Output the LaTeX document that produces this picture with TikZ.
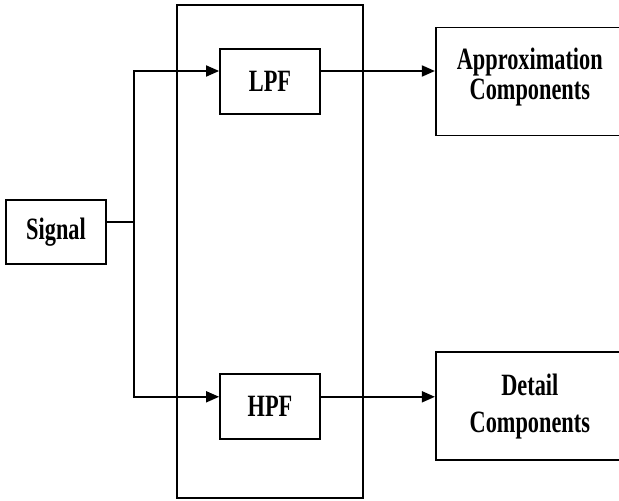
\documentclass[tikz,border=0pt]{standalone}
\usepackage{fontspec}
\setmainfont{Liberation Serif}[FakeStretch=0.72]
\usetikzlibrary{arrows.meta,positioning,calc}

\begin{document}
\begin{tikzpicture}[
  x=1pt,y=1pt,
  font=\bfseries\fontsize{31}{30}\selectfont,
  node distance=114pt,
  box/.style={draw,line width=1.8pt,align=center,inner sep=0pt,
    minimum width=100pt,minimum height=65pt},
  outbox/.style={box,minimum width=188pt,minimum height=108pt},
  arrow/.style={-{Triangle[length=13pt,width=11pt]},line width=1.8pt}
]
\useasboundingbox (0,0) rectangle (619,-501);
\clip (0,0) rectangle (619,-501);
\node[box,minimum width=186pt,minimum height=493pt] (bank) at (270,-251.5) {};
\node[box,minimum height=64pt] (sig) at (56,-232) {Signal};
\node[box] (lpf) at (270,-81.5) {LPF};
\node[box,below=258pt of lpf] (hpf) {HPF};
\node[outbox,right=of lpf,text depth=16pt] (approx) {Approximation\\Components};
\node[outbox,right=of hpf] (detail) {Detail\\[7pt]Components};
\coordinate (split) at (134,-222);
\draw[line width=1.8pt] ([yshift=10pt]sig.east) -- (split);
\draw[arrow] (split) |- ([yshift=10.5pt]lpf.west);
\draw[arrow] (split) |- ([yshift=9.5pt]hpf.west);
\draw[arrow] ([yshift=10.5pt]lpf.east) -- ([yshift=10.5pt]lpf.east -| approx.west);
\draw[arrow] ([yshift=9.5pt]hpf.east) -- ([yshift=9.5pt]hpf.east -| detail.west);
\end{tikzpicture}
\end{document}
